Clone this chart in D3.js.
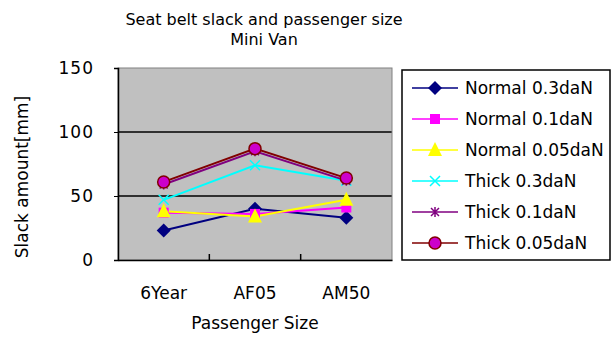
<!DOCTYPE html>
<html>
<head>
<meta charset="utf-8">
<script src="https://cdn.jsdelivr.net/npm/d3@7"></script>
<style>
  body { margin: 0; background: #fff; }
  text { font-family: "DejaVu Sans", sans-serif; fill: #000; }
</style>
</head>
<body>
<svg id="chart" width="613" height="345"></svg>
<script>
// passenger categories on the x axis
var categories = ["6Year", "AF05", "AM50"];

// slack amount [mm] per series
var normal03 = [23, 40, 33];
var normal01 = [37, 36, 41];
var normal005 = [38, 34, 47];
var thick03 = [47, 74, 62];
var thick01 = [59, 85, 62];
var thick005 = [61, 87, 64];

var yTicks = [0, 50, 100, 150];

var seriesNames = ["Normal 0.3daN", "Normal 0.1daN", "Normal 0.05daN",
                   "Thick 0.3daN", "Thick 0.1daN", "Thick 0.05daN"];

var series = [
  {name: seriesNames[0], values: normal03, color: "#000080", marker: "diamond"},
  {name: seriesNames[1], values: normal01, color: "#ff00ff", marker: "square"},
  {name: seriesNames[2], values: normal005, color: "#ffff00", marker: "triangle"},
  {name: seriesNames[3], values: thick03, color: "#00ffff", marker: "x"},
  {name: seriesNames[4], values: thick01, color: "#800080", marker: "star"},
  {name: seriesNames[5], values: thick005, color: "#800000", marker: "circle"}
];

var svg = d3.select("#chart");

// plot area
var plot = {left: 118, top: 68, right: 392, bottom: 260};

var x = d3.scaleBand()
  .domain(categories)
  .range([plot.left, plot.right]);

var y = d3.scaleLinear()
  .domain([0, 150])
  .range([plot.bottom, plot.top]);

// grey background
svg.append("rect")
  .attr("x", plot.left)
  .attr("y", plot.top)
  .attr("width", plot.right - plot.left)
  .attr("height", plot.bottom - plot.top)
  .attr("fill", "#c0c0c0");

// horizontal grid lines
svg.append("g")
  .selectAll("line")
  .data(yTicks.filter(function(d){ return d > 0 && d < 150; }))
  .join("line")
  .attr("x1", plot.left)
  .attr("x2", plot.right)
  .attr("y1", function(d){ return y(d); })
  .attr("y2", function(d){ return y(d); })
  .attr("stroke", "#000")
  .attr("stroke-width", 1.5);

// plot border
svg.append("rect")
  .attr("x", plot.left)
  .attr("y", plot.top)
  .attr("width", plot.right - plot.left)
  .attr("height", plot.bottom - plot.top)
  .attr("fill", "none")
  .attr("stroke", "#808080")
  .attr("stroke-width", 1);

// y axis
var yAxis = svg.append("g")
  .attr("transform", "translate(" + plot.left + ",0)")
  .call(d3.axisLeft(y).tickValues(yTicks).tickSize(4).tickPadding(20));
yAxis.select(".domain").attr("stroke", "#000").attr("stroke-width", 1.5);
yAxis.selectAll(".tick line").attr("stroke", "#000");
yAxis.selectAll("text").style("font-size", "17px").style("letter-spacing", "1px");

// x axis
var xAxis = svg.append("g")
  .attr("transform", "translate(0," + plot.bottom + ")")
  .call(d3.axisBottom(x).tickSize(0).tickPadding(27));
xAxis.select(".domain").attr("stroke", "#000").attr("stroke-width", 1.5);
xAxis.selectAll("text").style("font-size", "17px");

// tick marks between categories
svg.append("g")
  .selectAll("line")
  .data(categories.slice(1))
  .join("line")
  .attr("x1", function(d){ return x(d); })
  .attr("x2", function(d){ return x(d); })
  .attr("y1", plot.bottom)
  .attr("y2", plot.bottom - 6)
  .attr("stroke", "#000")
  .attr("stroke-width", 1.5);

// titles
svg.append("text")
  .attr("x", 264).attr("y", 25)
  .attr("text-anchor", "middle")
  .style("font-size", "16px")
  .text("Seat belt slack and passenger size");
svg.append("text")
  .attr("x", 264).attr("y", 45)
  .attr("text-anchor", "middle")
  .style("font-size", "16px")
  .text("Mini Van");

svg.append("text")
  .attr("x", 255).attr("y", 329)
  .attr("text-anchor", "middle")
  .style("font-size", "17px")
  .text("Passenger Size");

svg.append("text")
  .attr("transform", "translate(28,177) rotate(-90)")
  .attr("text-anchor", "middle")
  .style("font-size", "17px")
  .text("Slack amount[mm]");

// draws one marker shape at 0,0 inside g
function drawMarker(g, s) {
  if (s.marker === "diamond") {
    g.append("path").attr("d", "M0,-7L7,0L0,7L-7,0Z")
      .attr("fill", s.color);
  } else if (s.marker === "square") {
    g.append("rect").attr("x", -5).attr("y", -5).attr("width", 10).attr("height", 10)
      .attr("fill", s.color);
  } else if (s.marker === "triangle") {
    g.append("path").attr("d", "M0,-8L7,6L-7,6Z").attr("fill", s.color);
  } else if (s.marker === "x") {
    g.append("path").attr("d", "M-5,-5L5,5M-5,5L5,-5")
      .attr("stroke", s.color).attr("stroke-width", 1.5);
  } else if (s.marker === "star") {
    g.append("path").attr("d", "M-4,-4L4,4M-4,4L4,-4M0,-5L0,5")
      .attr("stroke", s.color).attr("stroke-width", 1.5);
  } else if (s.marker === "circle") {
    g.append("circle").attr("r", 6)
      .attr("fill", "#cc00cc").attr("stroke", s.color).attr("stroke-width", 1.5);
  }
}

var line = d3.line()
  .x(function(d, i){ return x(categories[i]) + x.bandwidth() / 2; })
  .y(function(d){ return y(d); });

series.forEach(function(s) {
  svg.append("path")
    .datum(s.values)
    .attr("d", line)
    .attr("fill", "none")
    .attr("stroke", s.color)
    .attr("stroke-width", 2);
});

series.forEach(function(s) {
  s.values.forEach(function(v, i) {
    var g = svg.append("g")
      .attr("transform", "translate(" + (x(categories[i]) + x.bandwidth() / 2) + "," + y(v) + ")");
    drawMarker(g, s);
  });
});

// legend
var legend = svg.append("g");
legend.append("rect")
  .attr("x", 402).attr("y", 70)
  .attr("width", 208).attr("height", 190)
  .attr("fill", "#fff")
  .attr("stroke", "#000")
  .attr("stroke-width", 1.5);

var legendY = d3.scalePoint()
  .domain(seriesNames)
  .range([88, 243]);

series.forEach(function(s) {
  var ly = legendY(s.name);
  legend.append("line")
    .attr("x1", 412).attr("x2", 458)
    .attr("y1", ly).attr("y2", ly)
    .attr("stroke", s.color).attr("stroke-width", 1.5);
  var g = legend.append("g").attr("transform", "translate(435," + ly + ")");
  drawMarker(g, s);
  legend.append("text")
    .attr("x", 465).attr("y", ly + 6)
    .style("font-size", "17px")
    .text(s.name);
});
</script>
</body>
</html>
